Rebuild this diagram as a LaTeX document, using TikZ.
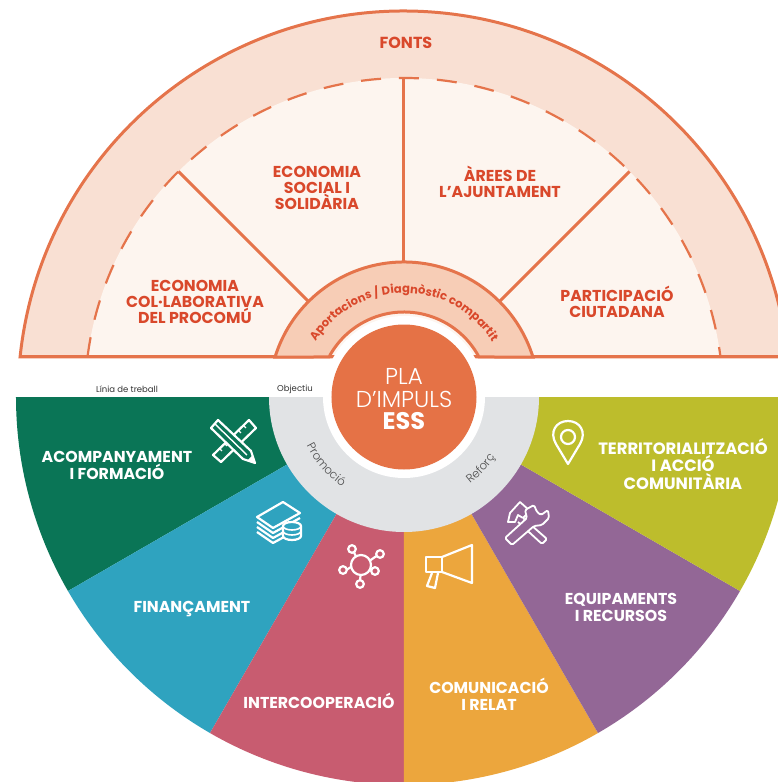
\documentclass[tikz,border=0pt]{standalone}
\usepackage{fontspec}
\usepackage{xcolor}
\usetikzlibrary{calc,positioning,decorations.text}
\setmainfont{Poppins}
\newfontfamily\thinfont{Poppins Light}

\definecolor{lineor}{HTML}{E5744B}
\definecolor{fontsbg}{HTML}{F9E0D3}
\definecolor{innerbg}{HTML}{FDF5EF}
\definecolor{apbg}{HTML}{F7CDB6}
\definecolor{redtxt}{HTML}{D9482B}
\definecolor{plaor}{HTML}{E57246}
\definecolor{greyring}{HTML}{E1E3E5}
\definecolor{secgreen}{HTML}{0A7556}
\definecolor{secblue}{HTML}{2FA3BF}
\definecolor{secred}{HTML}{C85C70}
\definecolor{secorange}{HTML}{ECA63D}
\definecolor{secpurple}{HTML}{936796}
\definecolor{secolive}{HTML}{BDBD2C}

\begin{document}
\begin{tikzpicture}[x=1pt,y=1pt,
  upper/.style={text=redtxt,font=\bfseries\fontsize{15.8}{16}\selectfont,align=center,inner sep=0pt},
  lower/.style={text=white,font=\bfseries\fontsize{15.8}{17}\selectfont,align=center,inner sep=0pt},
  small/.style={text=black!80,font=\fontsize{8.5}{9}\selectfont,inner sep=0pt},
  plain/.style={text=white,font=\thinfont\fontsize{23}{23}\selectfont,inner sep=0pt},
  wall/.style={draw=lineor,line width=3pt},
  px/.style={shift={(-404pt,397pt)},y=-1pt},
  ico/.style={draw=white,line width=2.2pt,line join=round}]

\useasboundingbox (-404,-385) rectangle (374,397);
\clip (-404,-385) rectangle (374,397);

% upper half
\filldraw[wall,fill=fontsbg] (174.05:386) arc (174.05:5.95:386) -- cycle;
\fill[innerbg] (172.8:319) arc (172.8:7.2:319) -- cycle;
\draw[wall,line width=2.2pt,dash pattern=on 20pt off 18pt] (172.8:319) arc (172.8:7.2:319);
\draw[wall] (174.05:386) -- (5.95:386);
\coordinate (d1a) at (135:135); \coordinate (d1b) at (135:319);
\coordinate (d2a) at (90:135);  \coordinate (d2b) at (90:319);
\coordinate (d3a) at (45:135);  \coordinate (d3b) at (45:319);
\draw[wall] (d1a) -- (d1b);
\draw[wall] (d2a) -- (d2b);
\draw[wall] (d3a) -- (d3b);
\filldraw[wall,fill=apbg] (162.8:135) arc (162.8:17.2:135) -- (28.1:85) arc (28.1:151.9:85) -- cycle;

\path[decorate,decoration={text along path,text align=center,text={|\bfseries\fontsize{11.6}{12}\selectfont\color{redtxt}|Aportacions / Diagnòstic compartit}}]
  (175:104) arc (175:5:104);

\node[upper,font=\bfseries\fontsize{16}{16}\selectfont] (fonts) at (2,354) {FONTS};
\node[upper] (social) at (-87,209) {ECONOMIA\\SOCIAL I\\SOLIDÀRIA};
\node[upper] (arees) at (96,215) {ÀREES DE\\L’AJUNTAMENT};
\node[upper] (procomu) at (-209,95) {ECONOMIA\\COL·LABORATIVA\\DEL PROCOMÚ};
\node[upper] (ciutadana) at (213,95.5) {PARTICIPACIÓ\\CIUTADANA};

% lower half
\fill[secgreen]  (0,0) -- (180:388) arc (180:210:388) -- cycle;
\fill[secblue]   (0,0) -- (210:388) arc (210:240:388) -- cycle;
\fill[secred]    (0,0) -- (240:388) arc (240:270:388) -- cycle;
\fill[secorange] (0,0) -- (270:388) arc (270:300:388) -- cycle;
\fill[secpurple] (0,0) -- (300:388) arc (300:330:388) -- cycle;
\fill[secolive]  (0,0) -- (330:388) arc (330:360:388) -- cycle;
\fill[greyring] (180:135) arc (180:360:135) -- cycle;
\fill[white] (0,0) circle (81);
\fill[plaor] (0,0) circle (72.5);

\node[plain] (pla) at (0,21) {PLA};
\node[plain] (impuls) at (0,-2) {D’IMPULS};
\node[plain,font=\bfseries\fontsize{24}{24}\selectfont] (ess) at (0,-24) {ESS};

\node[small] (linia) at (-277,8) {Línia de treball};
\node[small] (objectiu) at (-109,8) {Objectiu};

\path[decorate,decoration={text along path,text align=center,text={|\thinfont\fontsize{11.6}{12}\selectfont\color{black!70}|Promoció}}]
  (186:109) arc (186:256:109);
\path[decorate,decoration={text along path,text align=center,text={|\thinfont\fontsize{11.6}{12}\selectfont\color{black!70}|Reforç}}]
  (282:109) arc (282:352:109);

\node[lower] (acomp) at (-287,-68) {ACOMPANYAMENT\\I FORMACIÓ};
\node[lower] (finan) at (-212,-212) {FINANÇAMENT};
\node[lower] (inter) at (-85,-304) {INTERCOOPERACIÓ};
\node[lower] (comun) at (85,-297) {COMUNICACIÓ\\I RELAT};
\node[lower] (equip) at (217,-210) {EQUIPAMENTS\\I RECURSOS};
\node[lower,font=\bfseries\fontsize{16.4}{17.5}\selectfont] (terr) at (279,-67) {TERRITORIALITZACIÓ\\I ACCIÓ\\COMUNITÀRIA};

% icons, in pixels of the picture
\begin{scope}[px,ico]
  % ruler and pencil
  \filldraw[fill=secgreen] (249,420) -- (256,428) -- (221,462) -- (213,455) -- cycle;
  \draw[line width=1.4pt] (243,425) -- (246,428) (238,430) -- (241,433) (224,443) -- (227,446) (219,448) -- (222,451);
  \filldraw[fill=secgreen] (211,428) -- (218,420) -- (251,451) -- (255,463) -- (243,459) -- cycle;
  \draw[line width=1.4pt] (215,424) -- (247,455);
  \fill[white] (255,463) -- (252,456) -- (248,460) -- cycle;
  % money
  \filldraw[fill=secblue] (257,517) -- (283,502) -- (300,513) -- (273,528) -- cycle;
  \draw (257,522) -- (273,533) -- (300,518);
  \draw (257,527) -- (273,538) -- (284,532);
  \draw (257,532) -- (273,543) -- (284,537);
  \filldraw[fill=secblue] (283,536) -- (283,526) arc (180:360:9 and 4) -- (301,536) arc (0:180:9 and 4) -- cycle;
  \draw[line width=1.6pt] (283,526) arc (180:0:9 and 4) (283,531) arc (180:0:9 and 4);
  % network
  \draw (361,565) circle (10);
  \draw (352,549) circle (3.8) (380,554) circle (3.8) (375,571) circle (3.8) (360,584) circle (3.8) (343,570) circle (3.8);
  \draw (354,552.5) -- (356,556.5) (376.5,556) -- (370,560.5) (371,568) -- (371.3,569.8) (360.5,575) -- (360.2,580) (347,569.5) -- (351,567);
  % megaphone
  \draw (426,557) rectangle (442,572);
  \draw (442,557) -- (472,545) -- (472,583) -- (442,572);
  \draw (432,573) -- (427,586) -- (435,588) -- (438,573);
  % tools
  \filldraw[fill=secpurple,line width=1.8pt] (520,502) -- (530,511) -- (523,518) -- (518,515) -- (515,522) -- (508,522) -- (510,513) -- cycle;
  \filldraw[fill=secpurple,line width=1.8pt,rounded corners=1.5pt] (523,518) -- (547,539) -- (542,544) -- (518,522);
  \filldraw[fill=secpurple,line width=1.8pt,rounded corners=1.5pt] (534,505) -- (537,512) -- (541,515) -- (548,510) -- (549,518) -- (542,525) -- (534,526) -- (512,545) -- (505,538) -- (527,518) -- (525,510) -- cycle;
  % pin
  \draw (568,464) -- (556,444) .. controls (549,432) and (556,421) .. (568,421) .. controls (580,421) and (587,432) .. (580,444) -- cycle;
  \draw (568,437) circle (7);
\end{scope}
\end{tikzpicture}
\end{document}
